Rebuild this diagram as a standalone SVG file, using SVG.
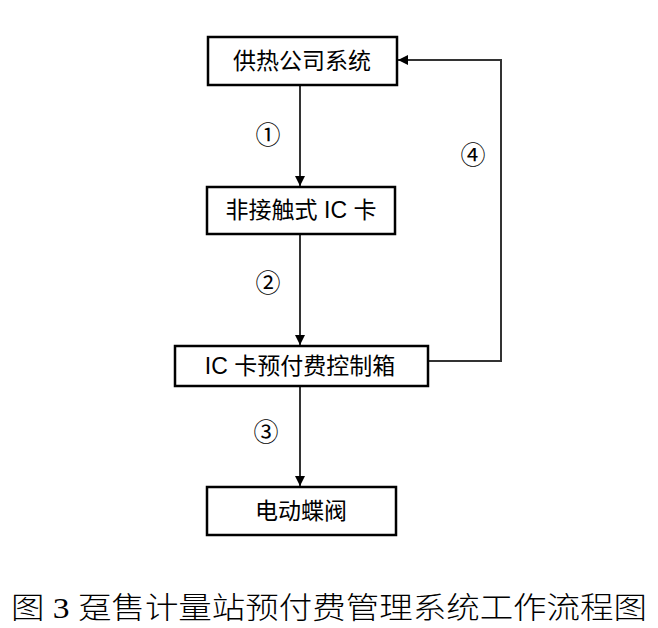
<svg xmlns="http://www.w3.org/2000/svg" width="658" height="628" viewBox="0 0 658 628">
<defs>
<marker id="ah" markerWidth="10" markerHeight="10" refX="10" refY="5" orient="auto" markerUnits="userSpaceOnUse">
<path d="M0,0 L10,5 L0,10 Z" fill="#000"/>
</marker>
<style>
.box{fill:#fff;stroke:#000;stroke-width:2.5}
.t{font-family:"Liberation Sans","Noto Sans CJK SC",sans-serif;font-size:23px;fill:#000;text-anchor:middle}
.n{font-family:"Noto Sans CJK SC",sans-serif;font-size:25px;fill:#000;text-anchor:middle}
.c{stroke:#333;stroke-width:2;fill:none}
</style>
</defs>
<rect width="658" height="628" fill="#fff"/>
<g id="connectors">
<line class="c" x1="300" y1="86" x2="300" y2="186" marker-end="url(#ah)"/>
<line class="c" x1="300" y1="235" x2="300" y2="345" marker-end="url(#ah)"/>
<line class="c" x1="300" y1="387" x2="300" y2="486" marker-end="url(#ah)"/>
<polyline class="c" stroke="#555" points="429,361 501,361 501,60 398,60" marker-end="url(#ah)"/>
<text class="n" x="268" y="144">①</text>
<text class="n" x="268" y="292">②</text>
<text class="n" x="266" y="441">③</text>
<text class="n" x="473" y="164">④</text>
</g>
<g id="n1"><rect class="box" x="208" y="37" width="189" height="48"/><text class="t" x="302" y="69">供热公司系统</text></g>
<g id="n2"><rect class="box" x="207" y="187" width="188" height="47"/><text class="t" x="301" y="218">非接触式 IC 卡</text></g>
<g id="n3"><rect class="box" x="175" y="346" width="253" height="40"/><text class="t" x="300" y="374">IC 卡预付费控制箱</text></g>
<g id="n4"><rect class="box" x="207" y="487" width="189" height="48"/><text class="t" x="301" y="519">电动蝶阀</text></g>
<text x="329" y="618" font-family="Liberation Serif,'Noto Sans CJK SC',serif" font-size="30" font-weight="300" text-anchor="middle" fill="#000" textLength="636" lengthAdjust="spacingAndGlyphs">图 3 趸售计量站预付费管理系统工作流程图</text>
</svg>
